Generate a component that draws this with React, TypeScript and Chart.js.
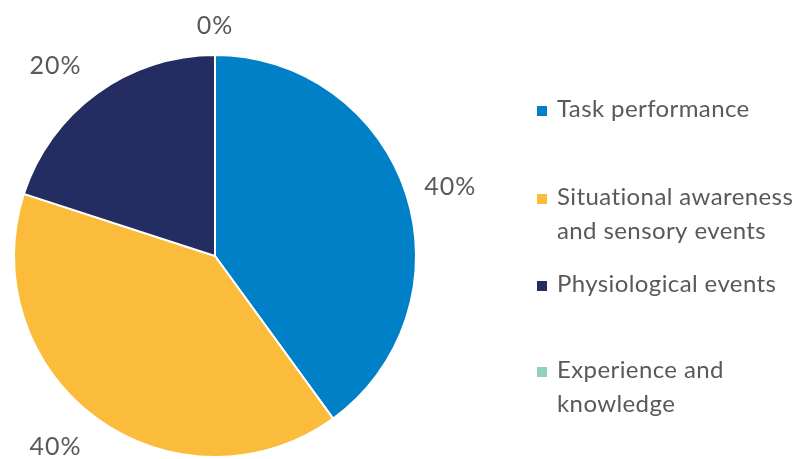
import React, { useEffect, useRef } from "react";
import { Chart, registerables } from "chart.js";

Chart.register(...registerables);

const categories: string[][] = [
  ["Task performance"],
  ["Situational awareness", "and sensory events"],
  ["Physiological events"],
  ["Experience and", "knowledge"],
];
const values: number[] = [40, 40, 20, 0];
const colors: string[] = ["#0080C6", "#FBBC3C", "#232D62", "#8FD1C1"];
const percentLabels: string[] = ["40%", "40%", "20%", "0%"];
// label placement: angle from 12 o'clock (deg, clockwise) and distance beyond the rim
const labelAngles: number[] = [73.7, 219.8, 320, 0];
const labelOffsets: number[] = [44, 48, 47, 29];
// legend text baselines of first lines
const legendBaselines: number[] = [117, 205, 292, 378];

const TEXT = "#595959";
const LEGEND_FONT = "24px Lato";
const LABEL_FONT = "25px Lato";

const overlay = {
  id: "overlay",
  afterDraw(chart: any) {
    const ctx = chart.ctx as any;
    const meta = chart.getDatasetMeta(0);
    const arc0 = meta.data[0] as any;
    const cx = arc0.x;
    const cy = arc0.y;
    const r = arc0.outerRadius;
    ctx.save();
    ctx.fillStyle = TEXT;
    ctx.font = LABEL_FONT;
    ctx.letterSpacing = "1px";
    ctx.textAlign = "center";
    ctx.textBaseline = "middle";
    percentLabels.forEach((t, i) => {
      const a = (labelAngles[i] * Math.PI) / 180;
      const d = r + labelOffsets[i];
      ctx.fillText(t, cx + Math.sin(a) * d, cy - Math.cos(a) * d);
    });
    // legend
    ctx.font = LEGEND_FONT;
    ctx.letterSpacing = "0.4px";
    ctx.textAlign = "left";
    ctx.textBaseline = "alphabetic";
    const mx = 537;
    const tx = 557;
    categories.forEach((lines, i) => {
      const b = legendBaselines[i];
      ctx.fillStyle = colors[i];
      ctx.fillRect(mx, b - 11, 10, 10);
      ctx.fillStyle = TEXT;
      lines.forEach((ln, j) => {
        ctx.fillText(ln, tx, b + j * 34);
      });
    });
    ctx.restore();
  },
};

export default function App() {
  const ref = useRef<HTMLCanvasElement | null>(null);
  useEffect(() => {
    if (!ref.current) return;
    const chart = new Chart(ref.current, {
      type: "pie",
      data: {
        labels: categories.map((l) => l.join(" ")),
        datasets: [
          {
            data: values,
            backgroundColor: colors,
            borderColor: "#ffffff",
            borderWidth: 2,
          },
        ],
      },
      options: {
        responsive: false,
        animation: false,
        layout: { padding: { left: 13, top: 54, right: 381, bottom: 1 } },
        plugins: {
          legend: { display: false },
          tooltip: { enabled: false },
        },
      },
      plugins: [overlay],
    });
    return () => chart.destroy();
  }, []);
  return (
    <div style={{ position: "fixed", left: 0, top: 0, width: 798, height: 459, background: "#fff" }}>
      <canvas ref={ref} width={798} height={459} />
    </div>
  );
}
